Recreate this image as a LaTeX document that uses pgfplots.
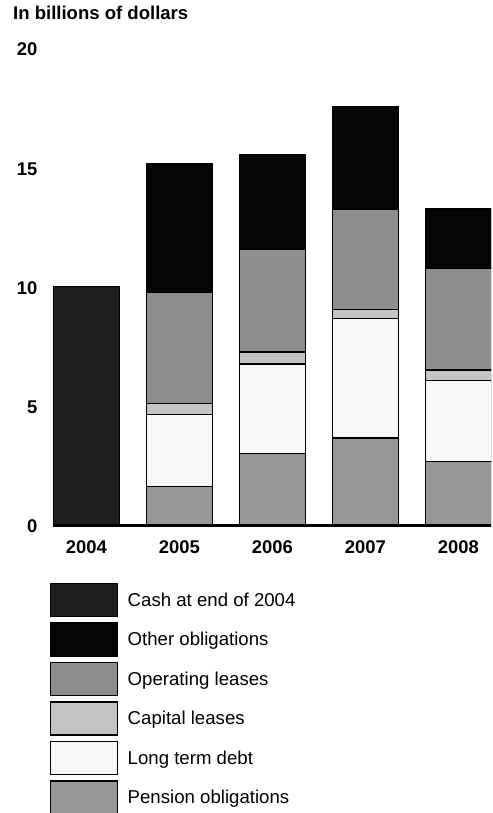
\documentclass[border=0pt]{standalone}
\usepackage{pgfplots}
\pgfplotsset{compat=1.18}
\usepackage{pgfplotstable}
\usepackage{fontspec}
\setmainfont{Liberation Sans}
\definecolor{cashc}{HTML}{1E1E1E}
\definecolor{otherc}{HTML}{050505}
\definecolor{operc}{HTML}{8E8E8E}
\definecolor{capc}{HTML}{C4C4C4}
\definecolor{ltdc}{HTML}{F7F7F7}
\definecolor{pensc}{HTML}{969696}
\pgfplotstableread{
x pension ltd capital operating other cash
0 0    0    0    0    0   10
1 1.6  3.05 0.45 4.65 5.4 0
2 3.0  3.75 0.5  4.3  4.0 0
3 3.65 5.0  0.4  4.2  4.3 0
4 2.65 3.4  0.45 4.25 2.5 0
}\datatable
\pgfplotsset{myleg/.style={legend image code/.code={\draw[##1] (0bp,-16.5bp) rectangle (67bp,16.5bp);}}}
\begin{document}
\begin{tikzpicture}
\begin{axis}[
  at={(0,0)}, anchor=south west,
  scale only axis, width=438bp, height=477bp,
  ybar stacked, bar width=66bp,
  xmin=-0.36, xmax=4.35, ymin=0, ymax=20,
  xtick={0,1,2,3,4}, xticklabels={2004,2005,2006,2007,2008},
  ytick={0,5,10,15,20},
  axis x line*=bottom, axis y line*=left,
  y axis line style={draw=none},
  x axis line style={line width=3bp},
  major tick length=0pt,
  /pgf/number format/assume math mode=true,
  tick label style={font=\fontsize{18.5}{18.5}\selectfont\bfseries},
  yticklabel style={xshift=-12bp, yshift=-1.5bp},
  xticklabel style={yshift=-12bp},
  every axis plot/.append style={draw=black, line width=1.2bp},
  reverse legend,
  legend style={at={(-0.00685,-0.1215)}, anchor=north west, draw=none, fill=none,
    inner sep=0pt, outer sep=0pt, row sep=5.3bp,
    nodes={inner sep=0pt, outer sep=0pt},
    /tikz/every odd column/.style={column sep=9.5bp},
    font=\fontsize{18.7}{18.7}\selectfont, cells={anchor=west}},
]
\addplot[fill=pensc, myleg] table[x=x, y=pension] {\datatable};
\addlegendentry{Pension obligations}
\addplot[fill=ltdc, myleg] table[x=x, y=ltd] {\datatable};
\addlegendentry{Long term debt}
\addplot[fill=capc, myleg] table[x=x, y=capital] {\datatable};
\addlegendentry{Capital leases}
\addplot[fill=operc, myleg] table[x=x, y=operating] {\datatable};
\addlegendentry{Operating leases}
\addplot[fill=otherc, myleg] table[x=x, y=other] {\datatable};
\addlegendentry{Other obligations}
\addplot[fill=cashc, myleg] table[x=x, y=cash] {\datatable};
\addlegendentry{Cash at end of 2004}
\end{axis}
\node[anchor=west, inner sep=0pt, font=\fontsize{18.6}{18.6}\selectfont\bfseries] at (-40bp,512bp) {In billions of dollars};
\pgfresetboundingbox
\path (-53bp,-288bp) rectangle (440bp,525bp);
\end{tikzpicture}
\end{document}
